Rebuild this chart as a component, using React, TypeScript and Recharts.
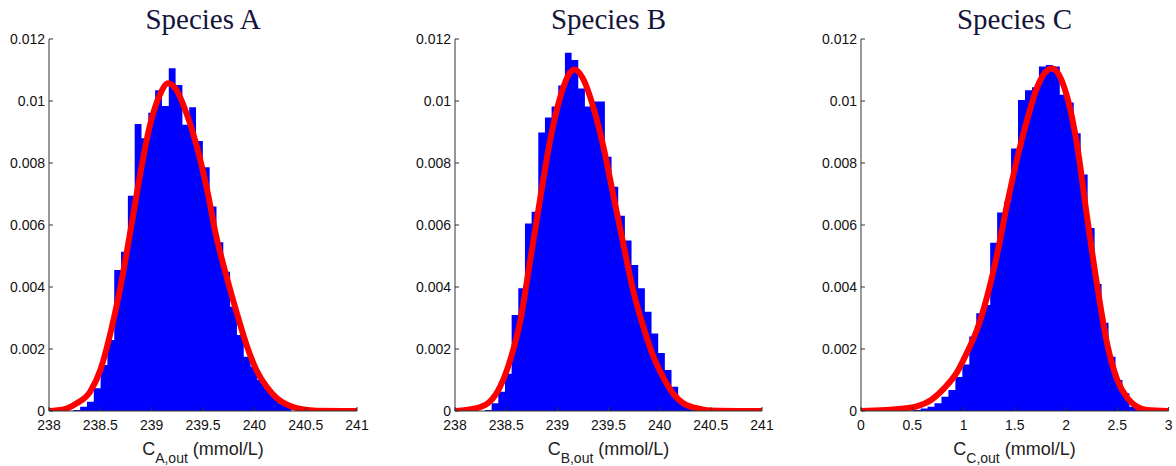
import React from 'react';
import { ComposedChart, Area, Line, XAxis, YAxis } from 'recharts';

const yTicks = [0, 0.002, 0.004, 0.006, 0.008, 0.01, 0.012];
const abTicks = [238, 238.5, 239, 239.5, 240, 240.5, 241];
const cTicks = [0, 0.5, 1, 1.5, 2, 2.5, 3];

// histograms: first bin edge, bin width, bar heights
const aBinStart = 238.237;
const aBinWidth = 0.0664;
const aHist = [
  0.00003, 0.00014, 0.0003, 0.00073, 0.00148, 0.00229, 0.00455, 0.00514, 0.00694, 0.00926, 0.0088,
  0.00962, 0.01035, 0.00984, 0.01106, 0.01052, 0.00923, 0.0098, 0.00871, 0.00786, 0.0066, 0.00544,
  0.00449, 0.00336, 0.00245, 0.00175, 0.00143, 0.001, 0.00073, 0.00046, 0.00025, 0.00014,
];

const bBinStart = 238.293;
const bBinWidth = 0.0651;
const bHist = [
  0.00003, 0.00025, 0.00062, 0.0012, 0.0031, 0.00396, 0.00605, 0.00643, 0.00898, 0.00947, 0.00982,
  0.0105, 0.01156, 0.01132, 0.0104, 0.00982, 0.00998, 0.00998, 0.0082, 0.00723, 0.0063, 0.0055,
  0.00471, 0.00396, 0.0032, 0.0025, 0.00187, 0.00132, 0.00078, 0.00025, 0.00014, 0.00005,
];

const cBinStart = 0.513;
const cBinWidth = 0.0679;
const cHist = [
  0.00003, 0.00008, 0.00014, 0.00025, 0.00046, 0.00068, 0.0011, 0.0015, 0.0024, 0.00315, 0.00342,
  0.00543, 0.0064, 0.00675, 0.00847, 0.01003, 0.01035, 0.01044, 0.01111, 0.01116, 0.01111, 0.0102,
  0.00995, 0.00896, 0.00763, 0.0059, 0.0041, 0.00285, 0.00175, 0.001, 0.00057, 0.00014, 0.00005,
];

// fitted density curves
const aFitX = [238.0, 238.14, 238.27, 238.4, 238.5, 238.59, 238.69, 238.79, 238.89, 238.98, 239.08, 239.16, 239.24, 239.34, 239.44, 239.54, 239.63, 239.73, 239.83, 239.93, 240.02, 240.12, 240.22, 240.35, 240.48, 240.61, 241.0];
const aFitY = [0, 0.00005, 0.00025, 0.00062, 0.00132, 0.0024, 0.0039, 0.00574, 0.00767, 0.00917, 0.0102, 0.01057, 0.01036, 0.0096, 0.00853, 0.00713, 0.00562, 0.00433, 0.00315, 0.00207, 0.00132, 0.00078, 0.00041, 0.00016, 0.00005, 0.00001, 0];

const bFitX = [238.0, 238.21, 238.34, 238.44, 238.54, 238.64, 238.73, 238.83, 238.93, 239.03, 239.12, 239.17, 239.25, 239.35, 239.45, 239.55, 239.65, 239.74, 239.84, 239.94, 240.04, 240.13, 240.23, 240.36, 240.49, 241.0];
const bFitY = [0, 0.00009, 0.0003, 0.00078, 0.00165, 0.00294, 0.00476, 0.0068, 0.00874, 0.01014, 0.0109, 0.01102, 0.01073, 0.00982, 0.00853, 0.00691, 0.0053, 0.0039, 0.00272, 0.00175, 0.00105, 0.00057, 0.00025, 0.00009, 0.00002, 0];

const cFitX = [0, 0.42, 0.55, 0.68, 0.81, 0.94, 1.03, 1.13, 1.23, 1.33, 1.42, 1.52, 1.62, 1.72, 1.82, 1.86, 1.91, 2.01, 2.11, 2.2, 2.3, 2.4, 2.5, 2.6, 2.69, 2.79, 3.0];
const cFitY = [0, 0.00008, 0.00016, 0.00035, 0.00073, 0.00127, 0.00186, 0.00261, 0.00369, 0.00509, 0.00659, 0.0081, 0.00939, 0.01046, 0.011, 0.01105, 0.01095, 0.01014, 0.00853, 0.00637, 0.00412, 0.00218, 0.001, 0.00041, 0.00014, 0.00003, 0];

const toHist = (start: number, width: number, heights: number[]) => {
  const pts = heights.map((h, i) => ({ x: start + i * width, y: h }));
  pts.push({ x: start + heights.length * width, y: 0 });
  return pts;
};
const toFit = (xs: number[], ys: number[]) => xs.map((x, i) => ({ x, y: ys[i] }));

const AXIS_W = 49;
const tickStyle = { fill: '#111', fontSize: 14, fontFamily: '"Liberation Sans", Arial, sans-serif' };

interface PanelProps {
  left: number;
  plotWidth: number;
  domain: [number, number];
  ticks: number[];
  hist: { x: number; y: number }[];
  fit: { x: number; y: number }[];
}

const Panel = ({ left, plotWidth, domain, ticks, hist, fit }: PanelProps) => (
  <div style={{ position: 'absolute', left, top: 0 }}>
    <ComposedChart
      width={AXIS_W + plotWidth + 20}
      height={466}
      margin={{ top: 39, right: 20, bottom: 0, left: 0 }}
    >
      <XAxis
        type="number"
        dataKey="x"
        domain={domain}
        ticks={ticks}
        interval={0}
        height={55}
        tickSize={-4}
        tickMargin={13}
        stroke="#333"
        tick={tickStyle}
        allowDataOverflow
      />
      <YAxis
        type="number"
        domain={[0, 0.012]}
        ticks={yTicks}
        interval={0}
        width={AXIS_W}
        tickSize={-4}
        tickMargin={8}
        stroke="#333"
        tick={tickStyle}
        allowDataOverflow
      />
      <Area
        data={hist}
        dataKey="y"
        type="stepAfter"
        fill="#0000ff"
        fillOpacity={1}
        stroke="none"
        isAnimationActive={false}
      />
      <Line
        data={fit}
        dataKey="y"
        type="monotone"
        stroke="#ff0000"
        strokeWidth={6}
        dot={false}
        activeDot={false}
        isAnimationActive={false}
      />
    </ComposedChart>
  </div>
);

const panels = [
  { name: 'A', left: 0, plotWidth: 308, domain: [238, 241] as [number, number], ticks: abTicks, hist: toHist(aBinStart, aBinWidth, aHist), fit: toFit(aFitX, aFitY) },
  { name: 'B', left: 406, plotWidth: 307, domain: [238, 241] as [number, number], ticks: abTicks, hist: toHist(bBinStart, bBinWidth, bHist), fit: toFit(bFitX, bFitY) },
  { name: 'C', left: 811.7, plotWidth: 307.6, domain: [0, 3] as [number, number], ticks: cTicks, hist: toHist(cBinStart, cBinWidth, cHist), fit: toFit(cFitX, cFitY) },
];

export default function App() {
  return (
    <div style={{ position: 'absolute', left: 0, top: 0, width: 1176, height: 466, background: '#fff' }}>
      {panels.map((p) => (
        <Panel key={p.name} left={p.left} plotWidth={p.plotWidth} domain={p.domain} ticks={p.ticks} hist={p.hist} fit={p.fit} />
      ))}
      <svg width={1176} height={466} style={{ position: 'absolute', left: 0, top: 0, pointerEvents: 'none' }}>
        {panels.map((p) => {
          const cx = p.left + AXIS_W + p.plotWidth / 2;
          return (
            <g key={p.name}>
              <text x={cx} y={29} textAnchor="middle" fontSize={29} fill="#14143a" fontFamily='"Liberation Serif", "Times New Roman", serif'>
                Species {p.name}
              </text>
              <text x={cx} y={455} textAnchor="middle" fontSize={18} fill="#222" fontFamily='"Liberation Sans", Arial, sans-serif'>
                C
                <tspan fontSize={14} dy={8}>{p.name},out</tspan>
                <tspan fontSize={18} dy={-8}> (mmol/L)</tspan>
              </text>
            </g>
          );
        })}
      </svg>
    </div>
  );
}
